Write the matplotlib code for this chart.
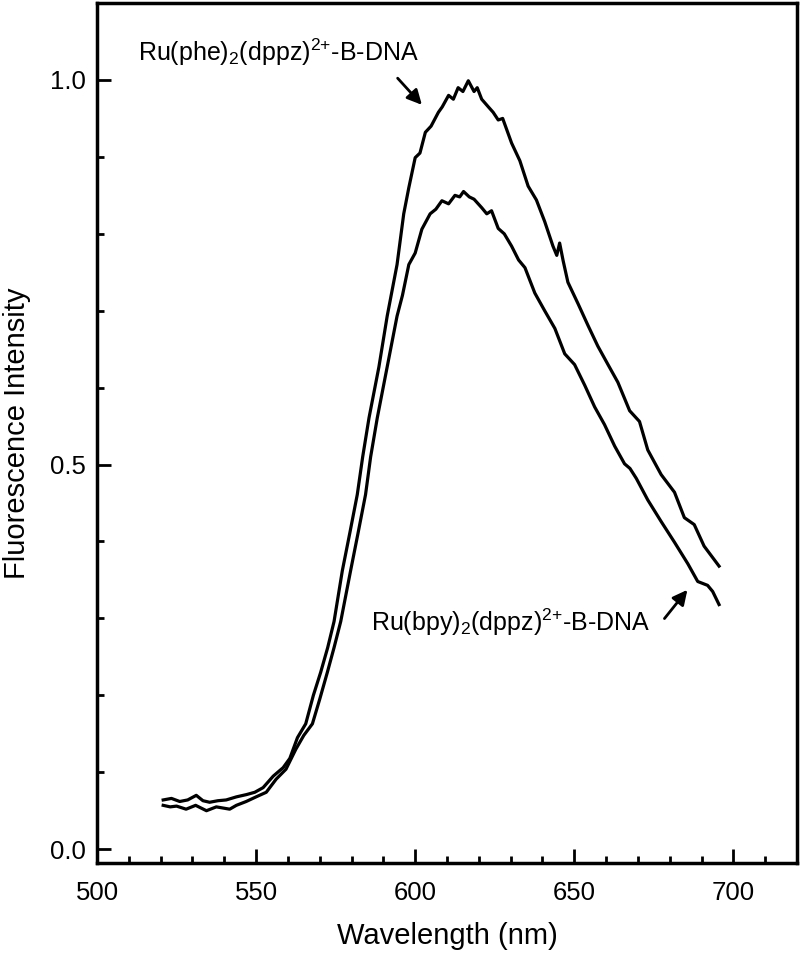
import matplotlib
matplotlib.use('Agg')
import matplotlib.pyplot as plt
from matplotlib.ticker import MultipleLocator

plt.rcParams['font.family'] = ['Liberation Sans', 'DejaVu Sans']
plt.rcParams['mathtext.fontset'] = 'custom'
plt.rcParams['mathtext.rm'] = 'Liberation Sans'
plt.rcParams['mathtext.it'] = 'Liberation Sans'
plt.rcParams['mathtext.default'] = 'rm'

# Ru(phe)2(dppz)2+ - B-DNA (upper curve)
phe_wl = [520.8, 523.4, 526.0, 528.5, 531.2, 533.3, 535.4, 538.0, 540.6, 543.8,
          547.0, 549.6, 552.2, 555.4, 558.5, 560.6, 563.0, 565.6, 568.0, 570.3,
          572.5, 574.5, 577.1, 579.5, 581.8, 583.5, 585.5, 588.6, 591.2, 594.3,
          596.4, 598.0, 600.0, 601.5, 603.2, 605.0, 607.3, 608.5, 610.5, 612.0,
          613.5, 615.0, 616.7, 618.5, 619.5, 620.9, 623.0, 624.5, 626.1, 627.5,
          630.3, 632.9, 635.5, 638.1, 640.7, 643.3, 644.5, 645.4, 646.5, 648.0,
          651.2, 654.3, 657.4, 660.6, 663.7, 667.4, 670.5, 673.1, 677.3, 681.5,
          684.6, 687.7, 690.8, 695.5]
phe_int = [0.064, 0.066, 0.062, 0.064, 0.070, 0.063, 0.061, 0.063, 0.064, 0.068,
           0.071, 0.074, 0.080, 0.095, 0.106, 0.118, 0.145, 0.163, 0.200, 0.230,
           0.262, 0.296, 0.362, 0.412, 0.461, 0.510, 0.561, 0.627, 0.693, 0.760,
           0.826, 0.860, 0.899, 0.905, 0.932, 0.940, 0.958, 0.965, 0.980, 0.975,
           0.990, 0.985, 0.999, 0.985, 0.990, 0.975, 0.965, 0.958, 0.948, 0.950,
           0.918, 0.895, 0.862, 0.844, 0.816, 0.784, 0.772, 0.788, 0.765, 0.737,
           0.709, 0.681, 0.654, 0.630, 0.607, 0.570, 0.556, 0.519, 0.487, 0.464,
           0.431, 0.422, 0.394, 0.368]

# Ru(bpy)2(dppz)2+ - B-DNA (lower curve)
bpy_wl = [520.8, 523.0, 525.0, 528.0, 531.0, 534.4, 537.5, 541.7, 543.8, 546.9,
          550.0, 553.2, 556.3, 559.4, 562.5, 565.0, 567.7, 570.0, 572.4, 574.5,
          576.6, 579.7, 582.0, 584.4, 586.0, 588.1, 591.2, 594.3, 596.0, 598.0,
          600.0, 602.1, 604.7, 606.5, 608.4, 610.5, 612.5, 614.0, 615.2, 617.0,
          618.5, 620.9, 622.5, 624.0, 626.1, 628.0, 630.3, 632.5, 634.5, 636.0,
          637.6, 640.7, 643.9, 647.0, 650.1, 653.3, 656.4, 659.5, 662.7, 665.8,
          667.5, 669.5, 673.1, 677.3, 681.5, 685.7, 688.8, 691.9, 693.5, 695.5]
bpy_int = [0.057, 0.055, 0.056, 0.052, 0.057, 0.050, 0.055, 0.052, 0.057, 0.062,
           0.068, 0.074, 0.091, 0.104, 0.130, 0.148, 0.163, 0.195, 0.230, 0.262,
           0.296, 0.362, 0.410, 0.461, 0.510, 0.561, 0.627, 0.693, 0.720, 0.760,
           0.775, 0.806, 0.826, 0.832, 0.843, 0.839, 0.850, 0.848, 0.855, 0.848,
           0.845, 0.834, 0.826, 0.830, 0.807, 0.800, 0.784, 0.766, 0.756, 0.740,
           0.723, 0.700, 0.677, 0.644, 0.630, 0.603, 0.575, 0.552, 0.524, 0.501,
           0.495, 0.482, 0.454, 0.426, 0.399, 0.371, 0.348, 0.343, 0.335, 0.318]

fig = plt.figure(figsize=(8, 9.57), dpi=100)
ax = fig.add_axes([0.12125, 0.0982, 0.875, 0.8986])

ax.plot(phe_wl, phe_int, color='black', lw=2.3)
ax.plot(bpy_wl, bpy_int, color='black', lw=2.3)

ax.set_xlim(500, 720)
ax.set_ylim(-0.018, 1.1)
ax.xaxis.set_major_locator(MultipleLocator(50))
ax.xaxis.set_minor_locator(MultipleLocator(10))
ax.yaxis.set_major_locator(MultipleLocator(0.5))
ax.yaxis.set_minor_locator(MultipleLocator(0.1))
ax.yaxis.set_major_formatter(plt.FormatStrFormatter('%.1f'))

for s in ax.spines.values():
    s.set_linewidth(2.5)
ax.tick_params(which='both', direction='in', top=False, right=False, width=2)
ax.tick_params(which='major', length=10, labelsize=18.5)
ax.tick_params(which='minor', length=5)
ax.tick_params(axis='x', which='major', pad=13)
ax.tick_params(axis='y', which='major', pad=8)

ax.set_xlabel('Wavelength (nm)', fontsize=21, labelpad=12)
ax.set_ylabel('Fluorescence Intensity', fontsize=21, labelpad=14)

ax.text(512.8, 1.025, r'Ru(phe)$_2$(dppz)$^{2{+}}$-B-DNA', fontsize=18, va='baseline')
ax.annotate('', xy=(602.7, 0.965), xytext=(593.9, 1.005),
            arrowprops=dict(arrowstyle='-|>', color='black', lw=2, mutation_scale=22))

ax.text(586.0, 0.284, r'Ru(bpy)$_2$(dppz)$^{2{+}}$-B-DNA', fontsize=18, va='baseline')
ax.annotate('', xy=(686.1, 0.340), xytext=(677.8, 0.297),
            arrowprops=dict(arrowstyle='-|>', color='black', lw=2, mutation_scale=22))

plt.savefig('out.png', dpi=100)
